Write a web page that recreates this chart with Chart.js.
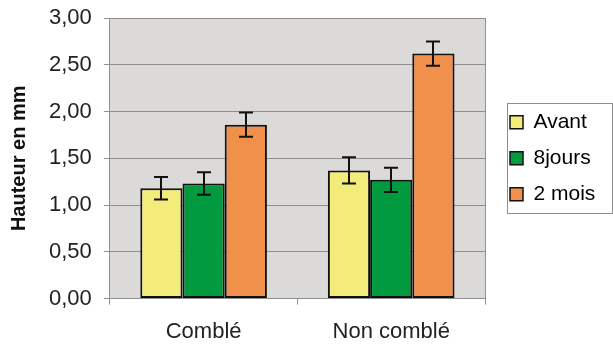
<!DOCTYPE html>
<html>
<head>
<meta charset="utf-8">
<script src="https://cdn.jsdelivr.net/npm/chart.js@4/dist/chart.umd.min.js"></script>
<style>
  html, body { margin: 0; padding: 0; background: #fff; }
  #wrap { width: 613px; height: 346px; }
</style>
</head>
<body>
<div id="wrap"><canvas id="myChart" width="613" height="346"></canvas></div>
<script>
// Données
const categories = ['Comblé', 'Non comblé'];
const seriesNames = ['Avant', '8jours', '2 mois'];
const avant = [1.18, 1.37];
const huitJours = [1.23, 1.27];
const deuxMois = [1.86, 2.62];
const errAvant = [0.12, 0.14];
const errHuitJours = [0.12, 0.13];
const errDeuxMois = [0.13, 0.13];
const yTicks = [0, 0.5, 1, 1.5, 2, 2.5, 3];

const colors = ['#f3ec7b', '#029a3e', '#f0904b'];
const FONT = 'Liberation Sans';

// Fond gris de la zone de tracé + bord droit
const plotBackground = {
    id: 'plotBackground',
    beforeDraw(chart) {
        const { ctx, chartArea: a } = chart;
        ctx.save();
        ctx.fillStyle = '#dcdad8';
        ctx.fillRect(a.left, a.top, a.right - a.left, a.bottom - a.top);
        ctx.strokeStyle = '#8f8f8f';
        ctx.lineWidth = 1;
        ctx.beginPath();
        ctx.moveTo(a.right + 0.5, a.top);
        ctx.lineTo(a.right + 0.5, a.bottom);
        ctx.stroke();
        ctx.restore();
    }
};

// Barres d'erreur
const errorBars = {
    id: 'errorBars',
    afterDatasetsDraw(chart) {
        const { ctx } = chart;
        const y = chart.scales.y;
        ctx.save();
        ctx.strokeStyle = '#111';
        ctx.lineWidth = 2;
        chart.data.datasets.forEach((ds, i) => {
            const meta = chart.getDatasetMeta(i);
            meta.data.forEach((bar, j) => {
                const v = ds.data[j];
                const e = ds.errors[j];
                const yHi = y.getPixelForValue(v + e);
                const yLo = y.getPixelForValue(v - e);
                const x = Math.round(bar.x);
                ctx.beginPath();
                ctx.moveTo(x, yHi);
                ctx.lineTo(x, yLo);
                ctx.moveTo(x - 7, yHi);
                ctx.lineTo(x + 7, yHi);
                ctx.moveTo(x - 7, yLo);
                ctx.lineTo(x + 7, yLo);
                ctx.stroke();
            });
        });
        ctx.restore();
    }
};

// Légende : largeur fixe, recentrée sur la zone de tracé, avec cadre
const legendLayout = {
    id: 'legendLayout',
    beforeInit(chart) {
        const lg = chart.legend;
        const fit = lg.fit;
        lg.fit = function () {
            fit.call(this);
            this.width = 128; // zone de tracé jusqu'à x = 485
        };
    },
    afterLayout(chart) {
        const lg = chart.legend;
        const a = chart.chartArea;
        lg.left += 10;
        lg.width -= 10;
        lg.top = a.top;
        lg.bottom = a.bottom;
        lg.height = a.bottom - a.top;
    },
    afterDraw(chart) {
        const a = chart.chartArea;
        const mid = (a.top + a.bottom) / 2;
        const ctx = chart.ctx;
        ctx.save();
        ctx.strokeStyle = '#8f8f8f';
        ctx.lineWidth = 1;
        ctx.strokeRect(507.5, Math.round(mid - 55) + 0.5, 105, 110);
        ctx.restore();
    }
};

const ctx = document.getElementById('myChart').getContext('2d');
new Chart(ctx, {
    type: 'bar',
    data: {
        labels: categories,
        datasets: [
            { label: seriesNames[0], data: avant, errors: errAvant, backgroundColor: colors[0] },
            { label: seriesNames[1], data: huitJours, errors: errHuitJours, backgroundColor: colors[1] },
            { label: seriesNames[2], data: deuxMois, errors: errDeuxMois, backgroundColor: colors[2] }
        ].map(d => Object.assign(d, {
            borderColor: '#111',
            borderWidth: 2,
            borderSkipped: false,
            categoryPercentage: 0.675,
            barPercentage: 1.0
        }))
    },
    options: {
        responsive: false,
        animation: false,
        layout: { padding: { top: 18, left: 4, right: 0, bottom: -13 } },
        scales: {
            y: {
                min: 0,
                max: 3,
                afterBuildTicks: axis => { axis.ticks = yTicks.map(v => ({ value: v })); },
                afterFit: axis => { axis.paddingTop = 0; axis.paddingBottom = 0; },
                ticks: {
                    color: '#222',
                    font: { family: FONT, size: 22 },
                    padding: 12,
                    callback: v => v.toFixed(2).replace('.', ',')
                },
                grid: { color: '#8f8f8f', tickLength: 6 },
                border: { color: '#8f8f8f' },
                title: {
                    display: true,
                    text: 'Hauteur en mm',
                    color: '#111',
                    font: { family: FONT, size: 20, weight: 'bold' },
                    padding: { top: 3, bottom: 6 }
                }
            },
            x: {
                grid: { drawOnChartArea: false, offset: true, tickLength: 6, color: '#8f8f8f' },
                border: { color: '#8f8f8f' },
                ticks: {
                    color: '#222',
                    font: { family: FONT, size: 22 },
                    padding: 14
                }
            }
        },
        plugins: {
            legend: {
                position: 'right',
                labels: {
                    color: '#111',
                    font: { family: FONT, size: 21 },
                    boxWidth: 13,
                    boxHeight: 13,
                    padding: 15,
                    generateLabels: chart => chart.data.datasets.map((d, i) => ({
                        text: d.label,
                        fillStyle: d.backgroundColor,
                        strokeStyle: '#111',
                        lineWidth: 1.5,
                        datasetIndex: i
                    }))
                }
            },
            tooltip: { enabled: false }
        }
    },
    plugins: [plotBackground, errorBars, legendLayout]
});
</script>
</body>
</html>
